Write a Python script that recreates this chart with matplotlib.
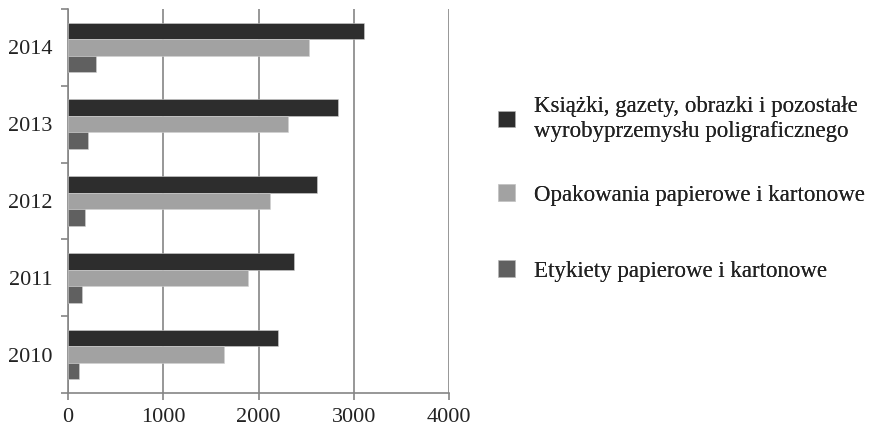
import numpy as np
import matplotlib
matplotlib.use("Agg")
import matplotlib.pyplot as plt
from matplotlib.patches import Patch

plt.rcParams["font.family"] = ["Liberation Serif", "DejaVu Serif"]

YEARS = ["2010", "2011", "2012", "2013", "2014"]
BOOKS = [2200, 2368, 2610, 2832, 3105]
PACKAGING = [1642, 1895, 2116, 2305, 2526]
LABELS = [116, 147, 180, 210, 295]

SERIES = [
    ("Książki, gazety, obrazki i pozostałe\nwyrobyprzemysłu poligraficznego", BOOKS, "#2d2d2d"),
    ("Opakowania papierowe i kartonowe", PACKAGING, "#a2a2a2"),
    ("Etykiety papierowe i kartonowe", LABELS, "#606060"),
]
XTICKS = [0, 1000, 2000, 3000, 4000]

GRID = "#858585"
FS = 16

fig = plt.figure(figsize=(8.85, 4.30), dpi=100)
ax = fig.add_axes([68 / 885, 1 - 393 / 430, (449 - 68) / 885, (393 - 9) / 430])

y = np.arange(len(YEARS))
h = 0.215
offsets = [h, 0, -h]
for (name, vals, col), off in zip(SERIES, offsets):
    ax.barh(y + off, vals, height=h, color=col, edgecolor="#d0d0d0",
            linewidth=0.4, zorder=3)

ax.set_xlim(0, 4000)
ax.set_ylim(-0.5, len(YEARS) - 0.5)
ax.set_xticks(XTICKS)
ax.set_xticklabels([str(t) for t in XTICKS], fontsize=FS, color="#222222")
ax.set_yticks(y)
ax.set_yticklabels(YEARS, fontsize=FS, color="#222222")
ax.set_yticks(np.arange(-0.5, len(YEARS)), minor=True)
ax.tick_params(axis="y", which="major", length=0, pad=11)
ax.tick_params(axis="y", which="minor", length=5, width=1.2, color=GRID)
ax.tick_params(axis="x", length=5, width=1.2, color=GRID, pad=6)

ax.xaxis.grid(True, color=GRID, linewidth=1.2, zorder=0)
for s in ["top", "right"]:
    ax.spines[s].set_visible(False)
for s in ["left", "bottom"]:
    ax.spines[s].set_color(GRID)
    ax.spines[s].set_linewidth(1.2)

# separate legend boxes so the entries sit evenly spaced
ys = [1 - 119 / 430, 1 - 195 / 430, 1 - 271 / 430]
for (name, vals, col), yy in zip(SERIES, ys):
    leg = fig.legend(handles=[Patch(facecolor=col, edgecolor="#d0d0d0", linewidth=0.4)],
                     labels=[name], loc="center left", bbox_to_anchor=(498 / 885, yy),
                     frameon=False, fontsize=16.5, handlelength=0.72, handleheight=0.72,
                     handletextpad=0.85, borderpad=0, borderaxespad=0)
    for t in leg.get_texts():
        t.set_color("#222222")
        t.set_linespacing(1.28)
    fig.add_artist(leg)

fig.savefig("out.png", dpi=100)
